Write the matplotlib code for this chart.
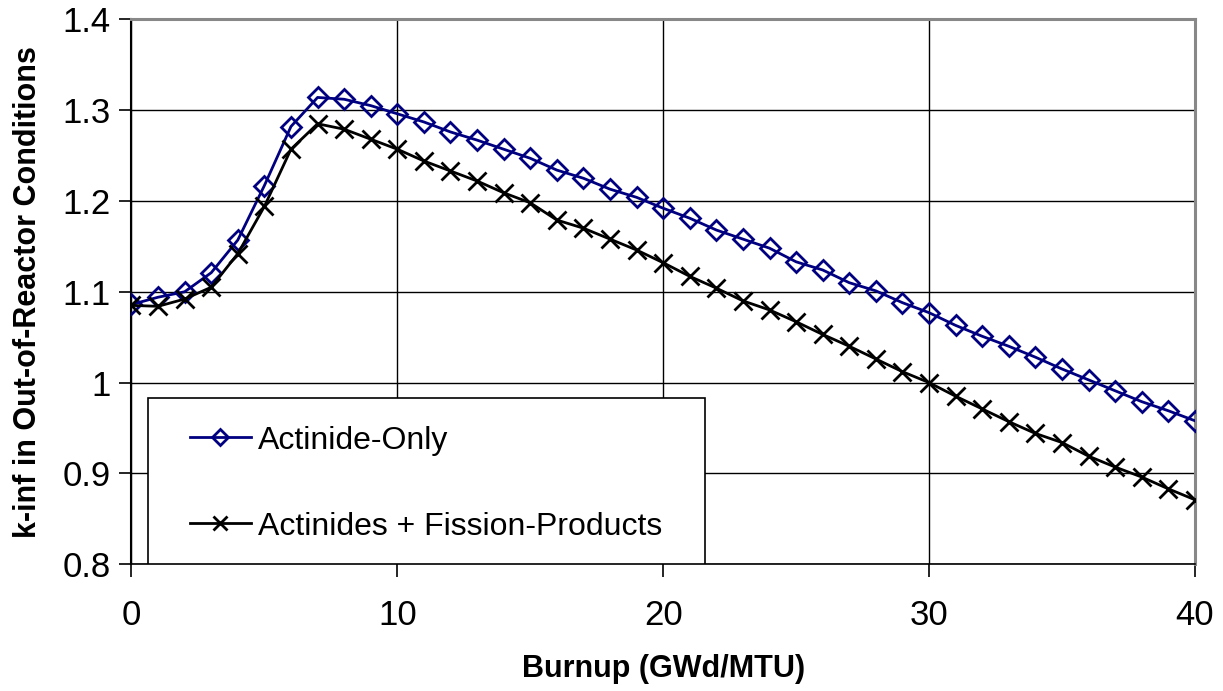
import numpy as np
import matplotlib
matplotlib.use("Agg")
import matplotlib.pyplot as plt
from matplotlib.patches import Rectangle

plt.rcParams['font.family'] = ['Liberation Sans', 'DejaVu Sans']

# burnup steps (GWd/MTU)
burnup = np.arange(0, 41)

# k-inf, actinide-only credit
k_actinide = [1.086, 1.094, 1.100, 1.121, 1.157, 1.217, 1.282, 1.314, 1.312, 1.305,
              1.296, 1.287, 1.276, 1.267, 1.257, 1.247, 1.234, 1.225, 1.213, 1.204,
              1.192, 1.181, 1.168, 1.158, 1.148, 1.133, 1.124, 1.110, 1.101, 1.088,
              1.077, 1.063, 1.051, 1.040, 1.028, 1.015, 1.003, 0.991, 0.979, 0.969,
              0.958]

# k-inf, actinides plus fission products
k_act_fp = [1.085, 1.084, 1.092, 1.105, 1.142, 1.194, 1.257, 1.285, 1.279, 1.268,
            1.257, 1.244, 1.233, 1.222, 1.209, 1.198, 1.179, 1.170, 1.158, 1.146,
            1.132, 1.117, 1.104, 1.090, 1.080, 1.067, 1.053, 1.040, 1.026, 1.012,
            1.000, 0.985, 0.971, 0.957, 0.944, 0.934, 0.919, 0.907, 0.896, 0.883,
            0.871]

fig = plt.figure(figsize=(12.23, 6.91), dpi=100)
ax = fig.add_axes([0.1075, 0.1835, 0.8695, 0.7885])

ax.plot(burnup, k_actinide, color='#000080', lw=2, marker='D', ms=10,
        mfc='none', mec='#000080', mew=2, label='Actinide-Only', zorder=3)
ax.plot(burnup, k_act_fp, color='black', lw=2, marker='x', ms=13,
        mew=2, label='Actinides + Fission-Products', zorder=3)

ax.set_xlim(0, 40)
ax.set_ylim(0.8, 1.4)
ax.set_xticks([0, 10, 20, 30, 40])
ax.set_yticks([0.8, 0.9, 1.0, 1.1, 1.2, 1.3, 1.4])
ax.set_yticklabels(['0.8', '0.9', '1', '1.1', '1.2', '1.3', '1.4'])
ax.tick_params(axis='both', labelsize=25, direction='out', length=9, width=1.2,
               color='black', pad=6)
ax.tick_params(axis='x', pad=16)

ax.grid(True, color='black', lw=1)
ax.set_axisbelow(True)

for side in ['top', 'right']:
    ax.spines[side].set_color('#888888')
    ax.spines[side].set_linewidth(2.2)
ax.spines['left'].set_color('black')
ax.spines['left'].set_linewidth(1.5)
ax.spines['bottom'].set_color('black')
ax.spines['bottom'].set_linewidth(1.2)

ax.set_xlabel('Burnup (GWd/MTU)', fontsize=22, fontweight='bold', labelpad=16)
ax.set_ylabel('k-inf in Out-of-Reactor Conditions', fontsize=22,
              fontweight='bold', labelpad=14)

# legend box drawn separately so the inner padding can be set freely
box = Rectangle((0.0152, 0.0), 0.5238, 0.305, transform=ax.transAxes,
                facecolor='white', edgecolor='black', lw=1.2, zorder=4)
ax.add_patch(box)
leg = ax.legend(loc='center left', bbox_to_anchor=(0.055, 0.148),
                fontsize=23, frameon=False, borderpad=0, labelspacing=1.75,
                handlelength=1.9, handletextpad=0.22, borderaxespad=0,
                markerscale=0.8)
leg.set_zorder(5)

fig.savefig('out.png', dpi=100)
